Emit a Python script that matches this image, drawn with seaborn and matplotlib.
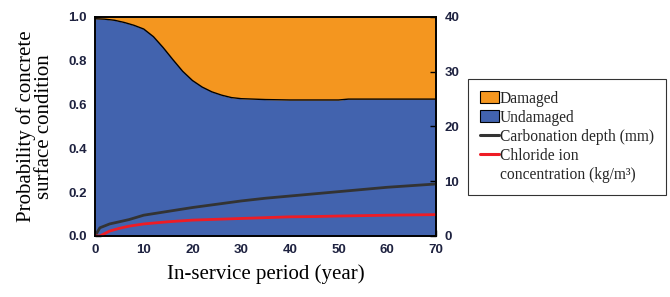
import pandas as pd
import matplotlib.pyplot as plt
import seaborn as sns
from matplotlib.patches import Patch
from matplotlib.lines import Line2D

# data
years = [0, 2, 4, 6, 8, 10, 12, 14, 16, 18, 20, 22, 24, 26, 28, 30, 35, 40, 45, 50, 52, 60, 70]
p_undamaged = [0.992, 0.990, 0.985, 0.975, 0.962, 0.945, 0.910, 0.860, 0.805, 0.752, 0.710,
               0.680, 0.658, 0.643, 0.632, 0.627, 0.623, 0.621, 0.621, 0.621, 0.625, 0.625, 0.625]

line_years = [0, 1, 3, 5, 7, 10, 15, 20, 25, 30, 35, 40, 45, 50, 55, 60, 65, 70]
carbonation = [0.0, 1.5, 2.2, 2.6, 3.0, 3.8, 4.5, 5.2, 5.8, 6.4, 6.9, 7.3, 7.7, 8.1, 8.5, 8.9, 9.2, 9.5]
chloride = [0.0, 0.0, 0.9, 1.4, 1.8, 2.2, 2.6, 2.9, 3.05, 3.2, 3.35, 3.5, 3.55, 3.65, 3.72, 3.8, 3.85, 3.9]

x_ticks = [0, 10, 20, 30, 40, 50, 60, 70]
left_ticks = [0.0, 0.2, 0.4, 0.6, 0.8, 1.0]
right_ticks = [0, 10, 20, 30, 40]

orange = "#F4961F"
blue = "#4263AE"
tick_color = "#1e2240"

sns.set_theme(style="ticks")
plt.rcParams["axes.linewidth"] = 1.2

df_area = pd.DataFrame({"year": years, "undamaged": p_undamaged})
df_lines = pd.DataFrame({"year": line_years, "carb": carbonation, "cl": chloride})

fig = plt.figure(figsize=(6.7, 2.97), dpi=100)
ax = fig.add_axes([0.1418, 0.2054, 0.509, 0.7374])

ax.fill_between(df_area["year"], 0, df_area["undamaged"], color=blue, lw=0)
ax.fill_between(df_area["year"], df_area["undamaged"], 1, color=orange, lw=0)
sns.lineplot(data=df_area, x="year", y="undamaged", ax=ax, color="black", lw=1.0)

ax.set_xlim(0, 70)
ax.set_ylim(0, 1)
ax.set_xticks(x_ticks)
ax.set_yticks(left_ticks)
ax.set_yticklabels([f"{v:.1f}" for v in left_ticks])

ax2 = ax.twinx()
sns.lineplot(data=df_lines, x="year", y="carb", ax=ax2, color="#333333", lw=2.0)
sns.lineplot(data=df_lines, x="year", y="cl", ax=ax2, color="#EE1C25", lw=2.0)
ax2.set_ylim(0, 40)
ax2.set_yticks(right_ticks)
ax2.set_xlim(0, 70)

for a in (ax, ax2):
    a.tick_params(direction="in", length=4, width=1.0, labelsize=9.5, colors="black",
                  labelcolor=tick_color, pad=6)
    for lbl in a.get_xticklabels() + a.get_yticklabels():
        lbl.set_fontweight("bold")
        lbl.set_family("Liberation Sans")
    for s in a.spines.values():
        s.set_color("black")

ax.set_xlabel("In-service period (year)", family="Liberation Serif", fontsize=15, color="black", labelpad=6)
ax.set_ylabel("Probability of concrete\nsurface condition", family="Liberation Serif", fontsize=15,
              color="black", linespacing=0.95, labelpad=10)
ax2.set_ylabel("")

handles = [
    Patch(facecolor=orange, edgecolor="black", lw=0.8),
    Patch(facecolor=blue, edgecolor="black", lw=0.8),
    Line2D([], [], color="#333333", lw=2.2),
    Line2D([], [], color="#EE1C25", lw=2.2),
    Line2D([], [], color="none", lw=0),
]
labels = ["Damaged", "Undamaged", "Carbonation depth (mm)", "Chloride ion", "concentration (kg/m³)"]
leg = fig.legend(handles, labels, loc="upper left", bbox_to_anchor=(0.6985, 0.734),
                 prop={"family": "Liberation Serif", "size": 11.2}, frameon=True, fancybox=False,
                 edgecolor="black", handlelength=1.25, handleheight=0.8, handletextpad=0.05,
                 labelspacing=0.2, borderpad=0.75, borderaxespad=0)
leg.get_frame().set_linewidth(0.8)

fig.savefig("out.png", dpi=100)
